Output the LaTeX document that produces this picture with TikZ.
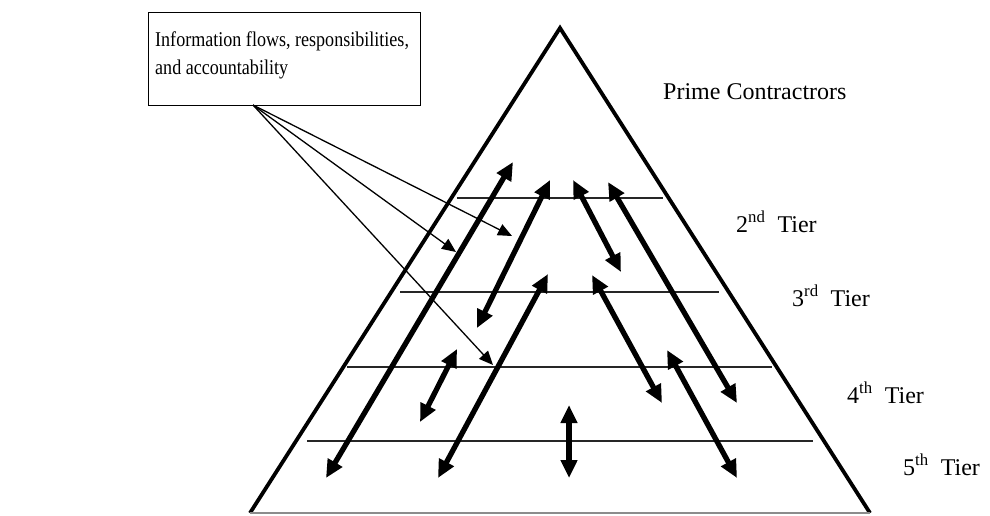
\documentclass[tikz,border=0pt]{standalone}
\usepackage{fontspec}
\setmainfont{Liberation Serif}
\newfontfamily\boxfont[FakeStretch=0.86]{Liberation Serif}
\usetikzlibrary{arrows.meta}
\begin{document}
\begin{tikzpicture}[x=1pt,y=-1pt,
  tri/.style={line width=3.8pt, line join=miter},
  tierline/.style={line width=1.8pt, black!85},
  baseline/.style={line width=1.8pt, black!45},
  big/.style={line width=5.3pt, {Triangle[length=18pt,width=16pt]}-{Triangle[length=18pt,width=16pt]}},
  thinarr/.style={line width=1.3pt, -{Triangle[length=14pt,width=12pt]}},
  lbl/.style={font=\fontsize{24}{28}\selectfont, anchor=base west, inner sep=0pt},
  boxtext/.style={font=\boxfont\fontsize{21}{25}\selectfont, anchor=base west, inner sep=0pt}]
\useasboundingbox (0,0) rectangle (990,515);
% pyramid
\coordinate (apex) at (560,28);
\coordinate (bl) at (250,513);
\coordinate (br) at (870,513);
\draw[tri] (bl) -- (apex) -- (br);
\draw[baseline] (bl) -- (br);
% tier lines
\coordinate (l2a) at (457,198); \coordinate (l2b) at (663,198);
\coordinate (l3a) at (400,292); \coordinate (l3b) at (719,292);
\coordinate (l4a) at (347,367); \coordinate (l4b) at (772,367);
\coordinate (l5a) at (307,441); \coordinate (l5b) at (813,441);
\draw[tierline] (l2a) -- (l2b);
\draw[tierline] (l3a) -- (l3b);
\draw[tierline] (l4a) -- (l4b);
\draw[tierline] (l5a) -- (l5b);
% box
\node[draw, line width=1.2pt, anchor=north west, minimum width=272pt, minimum height=93pt, inner sep=0pt] (box) at (148,12) {};
\node[boxtext] (bt1) at (155,46) {Information flows, responsibilities,};
\node[boxtext] (bt2) at (155,74) {and accountability};
\coordinate (src) at (253,105);
% labels
\node[lbl] (prime) at (663,99) {Prime Contractrors};
\node[lbl] (tier2) at (736,232) {2\textsuperscript{nd}\ \ Tier};
\node[lbl] (tier3) at (792,306) {3\textsuperscript{rd}\ \ Tier};
\node[lbl] (tier4) at (847,403) {4\textsuperscript{th}\ \ Tier};
\node[lbl] (tier5) at (903,475) {5\textsuperscript{th}\ \ Tier};
% thick double arrows
\coordinate (a1) at (513,162); \coordinate (a2) at (326,478);
\coordinate (b1) at (550,180); \coordinate (b2) at (477,328);
\coordinate (c1) at (548,274); \coordinate (c2) at (438,478);
\coordinate (d1) at (573,180); \coordinate (d2) at (621,272);
\coordinate (e1) at (608,182); \coordinate (e2) at (737,403);
\coordinate (f1) at (592,275); \coordinate (f2) at (662,403);
\coordinate (g1) at (667,350); \coordinate (g2) at (737,478);
\coordinate (h1) at (457,349); \coordinate (h2) at (420,422);
\coordinate (i1) at (569,405); \coordinate (i2) at (569,478);
\draw[big] (a1) -- (a2);
\draw[big] (b1) -- (b2);
\draw[big] (c1) -- (c2);
\draw[big] (d1) -- (d2);
\draw[big] (e1) -- (e2);
\draw[big] (f1) -- (f2);
\draw[big] (g1) -- (g2);
\draw[big] (h1) -- (h2);
\draw[big] (i1) -- (i2);
% thin arrows
\coordinate (t1) at (512,236);
\coordinate (t2) at (456,252);
\coordinate (t3) at (493,365);
\draw[thinarr] (src) -- (t1);
\draw[thinarr] (src) -- (t2);
\draw[thinarr] (src) -- (t3);
\end{tikzpicture}
\end{document}
